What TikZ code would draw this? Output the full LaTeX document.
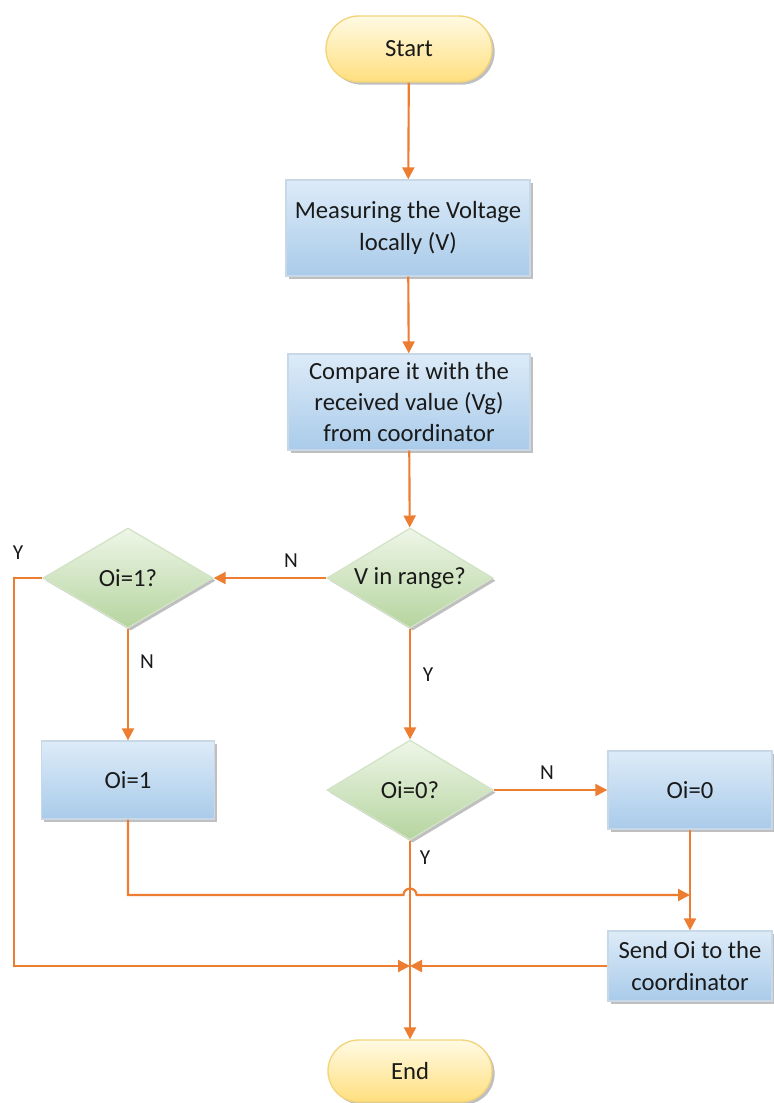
\documentclass[tikz,border=0pt]{standalone}
\usepackage{fontspec}
\setmainfont{Carlito}
\usetikzlibrary{shapes.geometric,shapes.misc,shadows,arrows.meta,calc}
\definecolor{ln}{HTML}{ED7D31}
\definecolor{bTop}{HTML}{DDEBF8}
\definecolor{bBot}{HTML}{A9CBEA}
\definecolor{bEdge}{HTML}{C8D8E6}
\definecolor{gTop}{HTML}{EEF6E8}
\definecolor{gBot}{HTML}{B5D49E}
\definecolor{gEdge}{HTML}{D3E3C8}
\definecolor{yTop}{HTML}{FFFAE3}
\definecolor{yBot}{HTML}{FFDF7E}
\definecolor{yEdge}{HTML}{F2D47A}
\definecolor{txt}{HTML}{1A1A1A}
\tikzset{
  base/.style={font=\fontsize{18.5}{23.5}\selectfont, text=txt, align=center, inner sep=0pt,
    drop shadow={shadow xshift=2pt, shadow yshift=-2pt, fill=black, opacity=0.25}},
  proc/.style={base, rectangle, draw=bEdge, line width=1pt, top color=bTop, bottom color=bBot},
  dec/.style={base, diamond, aspect=1.66, draw=gEdge, line width=1pt, top color=gTop, bottom color=gBot},
  term/.style={base, rounded rectangle, draw=yEdge, line width=1pt, top color=yTop, bottom color=yBot},
  conn/.style={draw=ln, line width=1.6pt},
  arr/.style={conn, -{Triangle[length=9pt,width=9pt]}},
  lbl/.style={font=\fontsize{16}{18}\selectfont, text=txt, inner sep=0pt}
}
\begin{document}
\begin{tikzpicture}[x=0.75pt,y=-0.75pt]
\useasboundingbox (0,0) rectangle (774,1103);
% nodes
\node[term, minimum width=166*0.75pt, minimum height=66*0.75pt] (start) at (409,49) {Start};
\node[proc, minimum width=244*0.75pt, minimum height=96*0.75pt] (meas) at (408,228) {Measuring the Voltage\\locally (V)};
\node[proc, minimum width=242*0.75pt, minimum height=96*0.75pt] (comp) at (409,402) {Compare it with the\\received value (Vg)\\from coordinator};
\node[dec, minimum width=166*0.75pt, minimum height=100*0.75pt] (vr) at (410,578) {V in range?};
\node[dec, minimum width=170*0.75pt, minimum height=100*0.75pt] (o1q) at (128,578) {Oi=1?};
\node[proc, minimum width=173*0.75pt, minimum height=78*0.75pt] (o1) at (128,780) {Oi=1};
\node[dec, minimum width=166*0.75pt, minimum height=100*0.75pt] (o0q) at (410,790) {Oi=0?};
\node[proc, minimum width=164*0.75pt, minimum height=78*0.75pt] (o0) at (690,790) {Oi=0};
\node[proc, minimum width=164*0.75pt, minimum height=70*0.75pt] (send) at (690,966) {Send Oi to the\\coordinator};
\node[term, minimum width=164*0.75pt, minimum height=62*0.75pt] (end) at (410,1071) {End};
% helper coordinates
\coordinate (j1) at (690,895);
\coordinate (m) at (410,966);
\coordinate (c1) at (128,895);
\coordinate (h1) at (403.5,895);
\coordinate (l1) at (14,578);
\coordinate (l2) at (14,966);
% connectors
\draw[arr] (start) -- (meas);
\draw[arr] (meas) -- (comp);
\draw[arr] (comp) -- (vr);
\draw[arr] (vr.west) -- (o1q.east);
\draw[arr] (o1q.south) -- (o1.north);
\draw[arr] (vr.south) -- (o0q.north);
\draw[arr] (o0q.east) -- (o0.west);
\draw[arr] (o0.south) -- (send.north);
\draw[arr] (o0q.south) -- (end.north);
\draw[arr] (o1.south) -- (c1) -- (h1) arc[start angle=180, end angle=0, radius=4.9pt] -- (j1);
\draw[arr] (o1q.west) -- (l1) -- (l2) -- (m);
\draw[arr] (send.west) -- (m);
% labels
\node[lbl] (lN1) at (291,561) {N};
\node[lbl] (lY1) at (18,553) {Y};
\node[lbl] (lN2) at (147,662) {N};
\node[lbl] (lY2) at (428,675) {Y};
\node[lbl] (lN3) at (547,773) {N};
\node[lbl] (lY3) at (425,858) {Y};
\end{tikzpicture}
\end{document}
